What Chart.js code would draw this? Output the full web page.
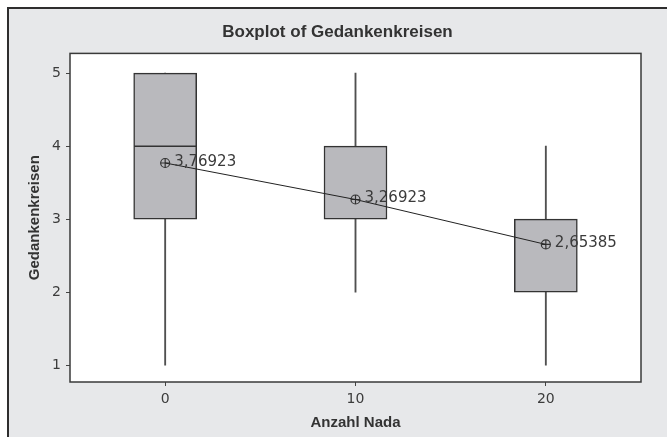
<!DOCTYPE html>
<html lang="de">
<head>
    <meta charset="UTF-8">
    <title>Boxplot of Gedankenkreisen</title>
    <style>
        body {
            margin: 0;
            background: #ffffff;
        }
        #wrap {
            width: 667px;
            height: 437px;
        }
    </style>
</head>
<body>

<div id="wrap">
    <canvas id="boxplot" width="667" height="437"></canvas>
</div>

<script src="https://cdn.jsdelivr.net/npm/chart.js"></script>
<script>
    // Daten
    const gruppen = [0, 10, 20];          // Anzahl Nada
    const minWerte = [1, 2, 1];
    const q1Werte = [3, 3, 2];
    const medianWerte = [4, 3, 3];
    const q3Werte = [5, 4, 3];
    const maxWerte = [5, 5, 4];
    const mittelwerte = [3.76923, 3.26923, 2.65385];
    const xTicks = [0, 10, 20];
    const yTicks = [1, 2, 3, 4, 5];

    const textFarbe = '#333333';

    // Hintergrund, Rahmen, Plotrahmen
    const rahmenPlugin = {
        id: 'rahmen',
        beforeDraw(chart) {
            const ctx = chart.ctx;
            const area = chart.chartArea;
            ctx.save();
            ctx.fillStyle = '#ffffff';
            ctx.fillRect(0, 0, chart.width, chart.height);
            ctx.fillStyle = '#e7e8ea';
            ctx.fillRect(8, 8, chart.width - 8, chart.height - 8);
            ctx.strokeStyle = '#2e2e2e';
            ctx.lineWidth = 2;
            ctx.beginPath();
            ctx.moveTo(8, chart.height);
            ctx.lineTo(8, 8);
            ctx.lineTo(chart.width, 8);
            ctx.stroke();
            ctx.fillStyle = '#ffffff';
            ctx.fillRect(area.left, area.top, area.right - area.left, area.bottom - area.top);
            ctx.restore();
        },
        afterDraw(chart) {
            const ctx = chart.ctx;
            const area = chart.chartArea;
            ctx.save();
            ctx.strokeStyle = '#3a3a3a';
            ctx.lineWidth = 1.5;
            ctx.strokeRect(area.left, area.top, area.right - area.left, area.bottom - area.top);
            ctx.restore();
        }
    };

    // Mediane und Beschriftung der Mittelwerte
    const boxPlugin = {
        id: 'boxDetails',
        afterDatasetsDraw(chart) {
            const ctx = chart.ctx;
            const x = chart.scales.x;
            const y = chart.scales.y;
            const halb = 31;
            ctx.save();
            ctx.strokeStyle = '#333333';
            ctx.lineWidth = 1.5;
            gruppen.forEach((g, i) => {
                // Median nur zeichnen, wenn er nicht auf dem Boxrand liegt
                if (medianWerte[i] === q1Werte[i] || medianWerte[i] === q3Werte[i]) return;
                const px = x.getPixelForValue(g);
                const py = y.getPixelForValue(medianWerte[i]);
                ctx.beginPath();
                ctx.moveTo(px - halb, py);
                ctx.lineTo(px + halb, py);
                ctx.stroke();
            });

            ctx.fillStyle = '#3a3a3a';
            ctx.font = '15px "DejaVu Sans", sans-serif';
            ctx.textAlign = 'left';
            ctx.textBaseline = 'middle';
            gruppen.forEach((g, i) => {
                const px = x.getPixelForValue(g);
                const py = y.getPixelForValue(mittelwerte[i]);
                const text = mittelwerte[i].toFixed(5).replace('.', ',');
                ctx.fillText(text, px + 9, py - 1);
            });
            ctx.restore();
        }
    };

    const ctx = document.getElementById('boxplot').getContext('2d');
    new Chart(ctx, {
        type: 'bar',
        data: {
            datasets: [
                {
                    type: 'line',
                    label: 'Mittelwert',
                    data: gruppen.map((g, i) => ({ x: g, y: mittelwerte[i] })),
                    borderColor: '#222222',
                    borderWidth: 1,
                    pointStyle: 'circle',
                    pointRadius: 4.5,
                    pointBorderWidth: 1.2,
                    pointBorderColor: '#333333',
                    pointBackgroundColor: 'rgba(0,0,0,0)',
                    order: 0
                },
                {
                    type: 'scatter',
                    label: 'Mittelwert Kreuz',
                    data: gruppen.map((g, i) => ({ x: g, y: mittelwerte[i] })),
                    showLine: false,
                    pointStyle: 'cross',
                    pointRadius: 4.5,
                    pointBorderWidth: 1.2,
                    pointBorderColor: '#333333',
                    order: 0
                },
                {
                    label: 'Box',
                    data: gruppen.map((g, i) => ({ x: g, y: [q1Werte[i], q3Werte[i]] })),
                    backgroundColor: '#b9b9bd',
                    borderColor: '#333333',
                    borderWidth: 1.5,
                    borderSkipped: false,
                    barThickness: 63,
                    grouped: false,
                    order: 1
                },
                {
                    label: 'Whisker',
                    data: gruppen.map((g, i) => ({ x: g, y: [minWerte[i], maxWerte[i]] })),
                    backgroundColor: '#505050',
                    borderWidth: 0,
                    barThickness: 1.2,
                    grouped: false,
                    order: 2
                }
            ]
        },
        options: {
            responsive: false,
            animation: false,
            layout: {
                padding: { left: 8, top: 8, right: 0, bottom: 0 }
            },
            plugins: {
                legend: { display: false },
                tooltip: { enabled: false },
                title: {
                    display: true,
                    text: 'Boxplot of Gedankenkreisen',
                    color: textFarbe,
                    font: { family: 'Liberation Sans', size: 17, weight: 'bold' },
                    padding: { top: 14, bottom: 11 }
                }
            },
            scales: {
                x: {
                    type: 'linear',
                    min: -5,
                    max: 25,
                    offset: false,
                    afterBuildTicks: s => { s.ticks = xTicks.map(v => ({ value: v })); },
                    afterFit: s => { s.height = 55; },
                    grid: {
                        drawOnChartArea: false,
                        offset: false,
                        tickLength: 4,
                        color: '#444444'
                    },
                    border: { display: false },
                    ticks: {
                        color: '#3c3c3c',
                        padding: 5,
                        font: { family: 'DejaVu Sans', size: 14 }
                    },
                    title: {
                        display: true,
                        text: 'Anzahl Nada',
                        color: textFarbe,
                        font: { family: 'Liberation Sans', size: 15, weight: 'bold' },
                        padding: { top: 0, bottom: 5 }
                    }
                },
                y: {
                    type: 'linear',
                    min: 0.77,
                    max: 5.27,
                    afterBuildTicks: s => { s.ticks = yTicks.map(v => ({ value: v })); },
                    afterFit: s => { s.width = 62; },
                    grid: {
                        drawOnChartArea: false,
                        tickLength: 4,
                        color: '#444444'
                    },
                    border: { display: false },
                    ticks: {
                        color: '#3c3c3c',
                        padding: 5,
                        font: { family: 'DejaVu Sans', size: 14 }
                    },
                    title: {
                        display: true,
                        text: 'Gedankenkreisen',
                        color: textFarbe,
                        font: { family: 'Liberation Sans', size: 15, weight: 'bold' },
                        padding: { top: 18, bottom: 0 }
                    }
                },
                // leere Achse rechts, damit der Titel mittig über dem ganzen Bild sitzt
                rand: {
                    type: 'linear',
                    position: 'right',
                    display: true,
                    afterFit: s => { s.width = 26; },
                    grid: { display: false },
                    border: { display: false },
                    ticks: { display: false }
                }
            }
        },
        plugins: [rahmenPlugin, boxPlugin]
    });
</script>

</body>
</html>
